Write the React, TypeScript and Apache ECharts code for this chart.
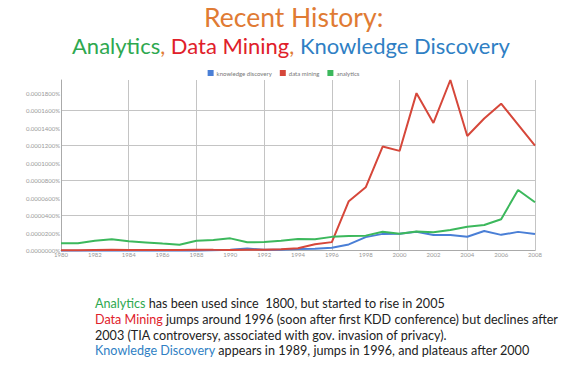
import React, { useEffect, useRef } from "react";
import * as echarts from "echarts";

const years: string[] = [
  "1980", "1981", "1982", "1983", "1984", "1985", "1986", "1987", "1988", "1989",
  "1990", "1991", "1992", "1993", "1994", "1995", "1996", "1997", "1998", "1999",
  "2000", "2001", "2002", "2003", "2004", "2005", "2006", "2007", "2008",
];

// values in percent
const knowledgeDiscovery: number[] = [
  0, 0, 0, 0, 0, 0, 0, 0, 0, 0.4e-6,
  1.0e-6, 2.6e-6, 1.0e-6, 1.2e-6, 1.8e-6, 2.2e-6, 3.3e-6, 7.2e-6, 15.5e-6, 19.2e-6,
  19.3e-6, 21.7e-6, 18.0e-6, 17.9e-6, 16.0e-6, 22.5e-6, 18.1e-6, 21.5e-6, 19.0e-6,
];

const dataMining: number[] = [
  0.6e-6, 0.6e-6, 0.8e-6, 1.0e-6, 0.9e-6, 0.8e-6, 0.8e-6, 0.9e-6, 1.2e-6, 1.0e-6,
  0.9e-6, 1.0e-6, 1.1e-6, 1.6e-6, 2.7e-6, 7.3e-6, 9.8e-6, 56.5e-6, 72.4e-6, 119e-6,
  114e-6, 180e-6, 146e-6, 195e-6, 131e-6, 151e-6, 168e-6, 144e-6, 120e-6,
];

const analytics: number[] = [
  8.5e-6, 8.5e-6, 11.4e-6, 13.2e-6, 10.8e-6, 9.5e-6, 8.1e-6, 6.9e-6, 11.4e-6, 12.2e-6,
  14.1e-6, 9.6e-6, 9.9e-6, 11.4e-6, 13.3e-6, 13.1e-6, 15.8e-6, 16.9e-6, 17.2e-6, 21.7e-6,
  19.4e-6, 21.9e-6, 21.0e-6, 23.6e-6, 27.4e-6, 29.3e-6, 36.0e-6, 69.4e-6, 55.3e-6,
];

const seriesNames: string[] = ["knowledge discovery", "data mining", "analytics"];
const yTickStep = 0.00002;
const yMax = 0.000195;
const firstYear = 1980;
const lastYear = 2008;
const gridYearStep = 4;

const title = "Recent History:";
const notes: { key: string; lead: string; rest: string }[] = [
  { key: "g", lead: "Analytics", rest: " has been used since  1800, but started to rise in 2005" },
  { key: "r", lead: "Data Mining", rest: " jumps around 1996 (soon after first KDD conference) but declines after" },
  { key: "", lead: "", rest: "2003 (TIA controversy, associated with gov. invasion of privacy)." },
  { key: "b", lead: "Knowledge Discovery", rest: " appears in 1989, jumps in 1996, and plateaus after 2000" },
];

const FONT = "Lato, 'Open Sans', sans-serif";
const LINE_COLORS = ["#4a7fd6", "#d6473a", "#3cb85c"];
const TXT = { g: "#2ea84f", r: "#e0202a", b: "#2f7fc4", o: "#e07b34", k: "#222222" };

export default function App() {
  const ref = useRef<HTMLDivElement>(null);
  useEffect(() => {
    if (!ref.current) return;
    const chart = echarts.init(ref.current, null, { renderer: "svg" });
    const NFS = 12.6;
    const richNotes = {
      g: { fill: TXT.g, fontSize: NFS, fontFamily: FONT },
      r: { fill: TXT.r, fontSize: NFS, fontFamily: FONT },
      b: { fill: TXT.b, fontSize: NFS, fontFamily: FONT },
      k: { fill: TXT.k, fontSize: NFS, fontFamily: FONT },
    };
    const noteY = [304, 320, 336, 351.5];
    const noteEls = notes.map((n, i) => ({
      type: "text",
      left: 95,
      top: noteY[i] - 7.5,
      style: {
        text: (n.lead ? `{${n.key}|${n.lead}}` : "") + `{k|${n.rest}}`,
        rich: richNotes,
        fontSize: NFS,
        fontFamily: FONT,
      },
    }));
    const fmt = (v: number) => {
      const r = v / yTickStep;
      if (Math.abs(r - Math.round(r)) > 1e-6) return "";
      return v.toFixed(7) + "%";
    };
    chart.setOption({
      animation: false,
      backgroundColor: "#ffffff",
      legend: {
        data: seriesNames,
        top: 65,
        left: "center",
        icon: "rect",
        itemWidth: 6,
        itemHeight: 6,
        itemGap: 8,
        textStyle: { fontSize: 6, color: "#777", fontFamily: FONT, padding: [0, 0, 0, -2] },
      },
      grid: { left: 61, right: 32, top: 80, bottom: 133.3, containLabel: false },
      xAxis: [
        {
          type: "category",
          data: years,
          boundaryGap: false,
          axisLine: { lineStyle: { color: "#aaaaaa", width: 1 } },
          axisTick: { show: false },
          axisLabel: { interval: 1, fontSize: 6, color: "#999", margin: 1, fontFamily: FONT },
          splitLine: { show: false },
          z: 3,
        },
        {
          type: "value",
          min: firstYear,
          max: lastYear,
          interval: gridYearStep,
          position: "bottom",
          axisLine: { show: false },
          axisTick: { show: false },
          axisLabel: { show: false },
          splitLine: { show: true, showMinLine: false, lineStyle: { color: "#c4c4c4", width: 1 } },
        },
      ],
      yAxis: [
        {
          type: "value",
          min: 0,
          max: yMax,
          interval: yTickStep,
          axisLine: { show: true, lineStyle: { color: "#aaaaaa" } },
          axisTick: { show: false },
          axisLabel: { formatter: fmt, fontSize: 6, color: "#999", margin: 1, fontFamily: FONT },
          splitLine: { show: false },
        },
        {
          type: "value",
          min: 0,
          max: yMax,
          interval: yTickStep * 2,
          position: "left",
          axisLine: { show: false },
          axisTick: { show: false },
          axisLabel: { show: false },
          splitLine: { show: true, showMinLine: false, showMaxLine: false, lineStyle: { color: "#c4c4c4", width: 1 } },
        },
      ],
      series: [knowledgeDiscovery, dataMining, analytics].map((d, i) => ({
        name: seriesNames[i],
        type: "line",
        data: d,
        xAxisIndex: 0,
        yAxisIndex: 0,
        symbol: "none",
        color: LINE_COLORS[i],
        lineStyle: { width: 2, color: LINE_COLORS[i] },
      })),
      graphic: [
        {
          type: "text",
          left: 204,
          top: 3,
          style: { text: title, fontSize: 26.5, fill: TXT.o, fontFamily: FONT },
        },
        {
          type: "text",
          left: 72,
          top: 34,
          style: {
            text: "{g|Analytics}{o|, }{r|Data Mining}{o|, }{b|Knowledge Discovery}",
            rich: {
              g: { fill: TXT.g, fontSize: 22, fontFamily: FONT },
              r: { fill: TXT.r, fontSize: 22, fontFamily: FONT },
              b: { fill: TXT.b, fontSize: 22, fontFamily: FONT },
              o: { fill: TXT.o, fontSize: 22, fontFamily: FONT },
            },
            fontSize: 22,
            fontFamily: FONT,
          },
        },
        ...noteEls,
      ],
    });
    return () => chart.dispose();
  }, []);
  return (
    <div
      ref={ref}
      style={{ position: "absolute", left: 0, top: 0, width: 567, height: 384 }}
    />
  );
}
